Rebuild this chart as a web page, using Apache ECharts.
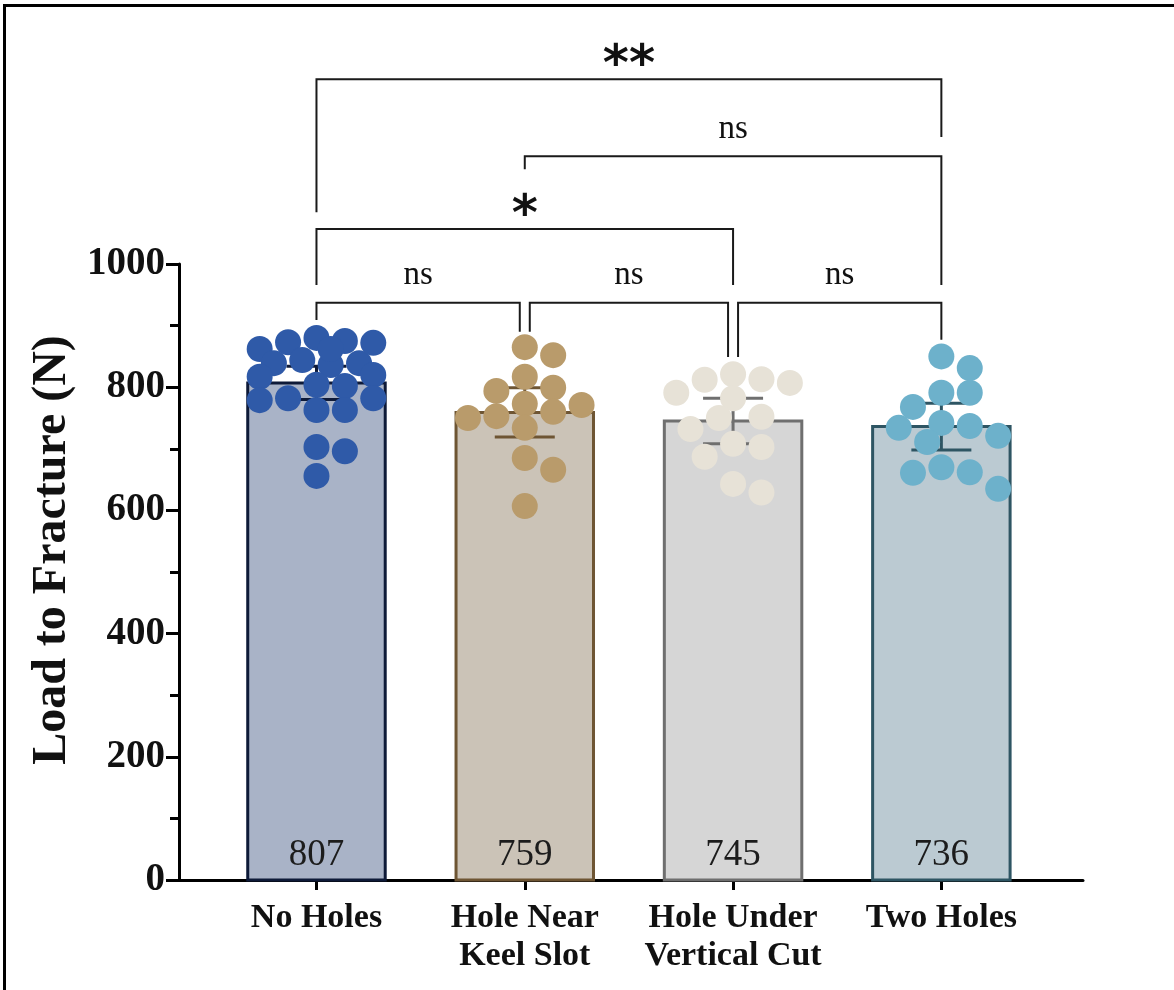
<!DOCTYPE html>
<html>
<head>
<meta charset="utf-8">
<script src="https://cdn.jsdelivr.net/npm/echarts@6/dist/echarts.min.js"></script>
<style>
  html, body { margin: 0; padding: 0; background: #ffffff; }
  #wrap { position: relative; width: 1174px; height: 990px; overflow: hidden; }
  #chart { position: absolute; left: 0; top: 0; width: 1174px; height: 990px; }
  #frame { position: absolute; left: 3px; top: 4px; right: -10px; bottom: -10px;
           border-top: 3px solid #000; border-left: 3px solid #000; pointer-events: none; }
</style>
</head>
<body>
<div id="wrap">
  <div id="chart"></div>
  <div id="frame"></div>
</div>
<script>
// ---- data ----
const categories = ['No Holes', 'Hole Near\nKeel Slot', 'Hole Under\nVertical Cut', 'Two Holes'];
const meanValues = [807, 759, 745, 736];
const ciHalfWidths = [27, 40, 37, 38];

const noHoles = [880, 873, 862, 839, 844, 836, 872, 875, 862, 839, 820, 802, 782, 817, 763, 779, 763, 782, 804, 703, 696, 656];
const nearKeelSlot = [865, 852, 817, 771, 773, 794, 799, 760, 750, 753, 734, 685, 666, 607];
const underVerticalCut = [791, 812, 813, 821, 807, 782, 752, 750, 732, 708, 687, 703, 629, 643];
const twoHoles = [850, 831, 791, 791, 768, 742, 734, 737, 721, 711, 670, 661, 662, 635];
const groupValues = [noHoles, nearKeelSlot, underVerticalCut, twoHoles];

const yMin = 0, yMax = 1000, yStep = 200;

// pairwise comparisons: group indices, label, bracket height and leg ends (axis units)
const comparisons = [
  { a: 0, b: 3, label: '**', line: 1300, legA: 1084, legB: 1206 },
  { a: 1, b: 3, label: 'ns', line: 1175, legA: 1154, legB: 966 },
  { a: 0, b: 2, label: '*',  line: 1057, legA: 966,  legB: 966 },
  { a: 0, b: 1, label: 'ns', line: 937,  legA: 909,  legB: 890 },
  { a: 1, b: 2, label: 'ns', line: 937,  legA: 890,  legB: 849 },
  { a: 2, b: 3, label: 'ns', line: 937,  legA: 849,  legB: 877 }
];

// ---- styling / layout ----
const palette = [
  { fill: '#a9b3c7', edge: '#0e1a38', dot: '#2f5aa8' },
  { fill: '#cbc3b7', edge: '#6e5533', dot: '#b99b6b' },
  { fill: '#d6d6d6', edge: '#6f6f6f', dot: '#e7e2d7' },
  { fill: '#bbcad2', edge: '#2e5563', dot: '#6db1cb' }
];
const SERIF = '"Liberation Serif", "Times New Roman", serif';
const W = 1174, H = 990;
const GRID = { left: 179, right: 91, top: 264, bottom: 110 };
const X_MIN = 0.34, X_MAX = 4.68;
const BAR_HALF = 0.33;
const CAP_HALF_PX = 30;
const DOT = 26;

const pxPerX = (W - GRID.left - GRID.right) / (X_MAX - X_MIN);
const pxPerY = (H - GRID.top - GRID.bottom) / (yMax - yMin);
const positions = categories.map((_, i) => i + 1);

// simple beeswarm: place points from the top down at the nearest free horizontal slot
function swarm(values) {
  const step = 14.2, maxOff = 58, minDist = 24;
  const cands = [0];
  for (let k = 1; k * step <= maxOff; k++) cands.push(k * step, -k * step);
  const order = values.map((_, i) => i).sort((i, j) => values[j] - values[i]);
  const placed = [];
  const offs = new Array(values.length).fill(0);
  order.forEach(idx => {
    const y = values[idx] * pxPerY;
    let best = 0, bestScore = -Infinity;
    for (const c of cands) {
      let d = Infinity;
      placed.forEach(p => { d = Math.min(d, Math.hypot(c - p.x, y - p.y)); });
      if (d >= minDist) { best = c; break; }
      if (d > bestScore) { bestScore = d; best = c; }
    }
    placed.push({ x: best, y: y });
    offs[idx] = best;
  });
  return offs;
}

const chart = echarts.init(document.getElementById('chart'), null, { renderer: 'canvas' });

const barData = positions.map((x, i) => [x, meanValues[i], ciHalfWidths[i]]);

const scatterSeries = groupValues.map((vals, g) => {
  const offs = swarm(vals);
  return {
    type: 'scatter',
    z: 3,
    symbol: 'circle',
    symbolSize: DOT,
    itemStyle: { color: palette[g].dot, opacity: 1 },
    data: vals.map((v, k) => [positions[g] + offs[k] / pxPerX, v]),
    silent: true
  };
});

const option = {
  animation: false,
  backgroundColor: '#ffffff',
  grid: { left: GRID.left, right: GRID.right, top: GRID.top, bottom: GRID.bottom,
          containLabel: false, outerBoundsMode: 'none' },
  xAxis: {
    type: 'value', min: X_MIN, max: X_MAX,
    axisLine: { show: true, onZero: false, lineStyle: { color: '#000', width: 3 } },
    axisTick: { show: true, customValues: positions, length: 10, lineStyle: { color: '#000', width: 3 } },
    axisLabel: {
      customValues: positions,
      formatter: v => categories[Math.round(v) - 1] || '',
      fontFamily: SERIF, fontWeight: 'bold', fontSize: 34, color: '#111',
      lineHeight: 38, margin: 19
    },
    splitLine: { show: false }
  },
  yAxis: {
    type: 'value', min: yMin, max: yMax, interval: yStep,
    axisLine: { show: true, lineStyle: { color: '#000', width: 3 } },
    axisTick: { show: true, length: 13, lineStyle: { color: '#000', width: 3 } },
    minorTick: { show: true, splitNumber: 2, length: 9, lineStyle: { color: '#000', width: 3 } },
    axisLabel: { formatter: v => String(v), fontFamily: SERIF, fontWeight: 'bold', fontSize: 39, color: '#111', margin: 14 },
    splitLine: { show: false },
    minorSplitLine: { show: false },
    name: 'Load to Fracture (N)',
    nameLocation: 'middle',
    nameGap: 97,
    nameTextStyle: { fontFamily: SERIF, fontWeight: 'bold', fontSize: 48, color: '#111',
                     padding: [0, 0, 0, 44] }
  },
  series: [
    {
      // bars with their mean labels
      type: 'custom', z: 1, silent: true,
      data: barData,
      encode: { x: 0, y: 1 },
      renderItem: (params, api) => {
        const x = api.value(0), m = api.value(1);
        const g = params.dataIndex;
        const p0 = api.coord([x - BAR_HALF, m]);
        const p1 = api.coord([x + BAR_HALF, 0]);
        const base = api.coord([x, 0]);
        return {
          type: 'group',
          children: [
            { type: 'rect',
              shape: { x: p0[0], y: p0[1], width: p1[0] - p0[0], height: p1[1] - p0[1] },
              style: { fill: palette[g].fill, stroke: palette[g].edge, lineWidth: 3 } },
            { type: 'text', x: base[0], y: base[1] - 6,
              style: { text: String(m), align: 'center', verticalAlign: 'bottom',
                       font: '37px ' + SERIF, fill: '#1c1c1c' } }
          ]
        };
      }
    },
    {
      // confidence-interval error bars
      type: 'custom', z: 2, silent: true,
      data: barData,
      encode: { x: 0, y: 1 },
      renderItem: (params, api) => {
        const x = api.value(0), m = api.value(1), e = api.value(2);
        const g = params.dataIndex;
        const top = api.coord([x, m + e]);
        const bot = api.coord([x, m - e]);
        const st = { stroke: palette[g].edge, lineWidth: 3 };
        return {
          type: 'group',
          children: [
            { type: 'line', shape: { x1: top[0], y1: top[1], x2: bot[0], y2: bot[1] }, style: st },
            { type: 'line', shape: { x1: top[0] - CAP_HALF_PX, y1: top[1], x2: top[0] + CAP_HALF_PX, y2: top[1] }, style: st },
            { type: 'line', shape: { x1: bot[0] - CAP_HALF_PX, y1: bot[1], x2: bot[0] + CAP_HALF_PX, y2: bot[1] }, style: st }
          ]
        };
      }
    },
    ...scatterSeries,
    {
      // significance brackets
      type: 'custom', z: 4, silent: true, clip: false,
      data: comparisons.map((c, k) => [k]),
      renderItem: (params, api) => {
        const c = comparisons[params.dataIndex];
        const sameRow = comparisons.filter(o => o !== c && o.line === c.line);
        let xa = api.coord([positions[c.a], 0])[0];
        let xb = api.coord([positions[c.b], 0])[0];
        if (sameRow.some(o => o.b === c.a)) xa += 5;
        if (sameRow.some(o => o.a === c.b)) xb -= 5;
        const yl = api.coord([1, c.line])[1];
        const ya = api.coord([1, c.legA])[1];
        const yb = api.coord([1, c.legB])[1];
        const star = c.label.indexOf('*') >= 0;
        return {
          type: 'group',
          children: [
            { type: 'polyline',
              shape: { points: [[xa, ya], [xa, yl], [xb, yl], [xb, yb]] },
              style: { stroke: '#1a1a1a', lineWidth: 2, fill: 'none' } },
            { type: 'text', x: (xa + xb) / 2, y: yl - (star ? 12 : 27),
              style: { text: c.label, align: 'center', verticalAlign: 'middle',
                       font: star ? 'bold 50px "DejaVu Sans"' : '33px ' + SERIF, fill: '#111' } }
          ]
        };
      }
    }
  ]
};

chart.setOption(option);
</script>
</body>
</html>
